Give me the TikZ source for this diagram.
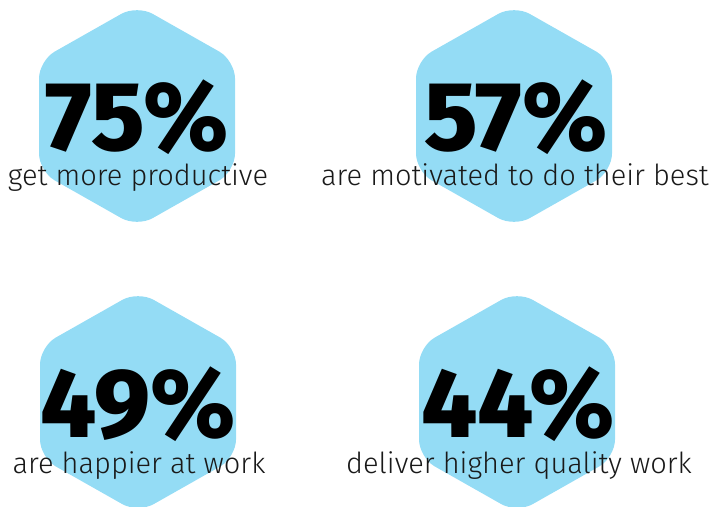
\documentclass[tikz,border=0pt]{standalone}
\usepackage{fontspec}
\setmainfont{Fira Sans}
\newfontfamily\numfont{Fira Sans ExtraBold}
\newfontfamily\subfont{Fira Sans Light}
\definecolor{hexblue}{RGB}{148,220,245}
\tikzset{
  hexfill/.style={fill=hexblue, rounded corners=18pt},
  bignum/.style={anchor=base, inner sep=0pt, text depth=0pt, font=\numfont\fontsize{98}{98}\selectfont, text=black},
  subtxt/.style={anchor=base, inner sep=0pt, text height=20pt, font=\subfont\fontsize{29}{29}\selectfont, text=black!90}
}
\newcommand{\hexat}[2]{%
  \fill[hexfill] (#1,#2-111) -- (#1+98,#2-55.5) -- (#1+98,#2+55.5) -- (#1,#2+111) -- (#1-98,#2+55.5) -- (#1-98,#2-55.5) -- cycle;}
\begin{document}
\begin{tikzpicture}[x=1pt,y=-1pt]
\useasboundingbox (0,0) rectangle (714,506);
\begin{scope}
\clip (0,0) rectangle (714,506);
\hexat{137}{116}
\hexat{514}{116}
\hexat{138}{402}
\hexat{517}{402}
\end{scope}
\node[bignum] (n1) at (137,150) {75\%};
\node[subtxt] (s1) at (138,185) {get more productive};
\node[bignum] (n2) at (516,150) {57\%};
\node[subtxt] (s2) at (515,185) {are motivated to do their best};
\node[bignum] (n3) at (138,437) {49\%};
\node[subtxt] (s3) at (139,473) {are happier at work};
\node[bignum] (n4) at (518,437) {44\%};
\node[subtxt] (s4) at (519,473) {deliver higher quality work};
\end{tikzpicture}
\end{document}
